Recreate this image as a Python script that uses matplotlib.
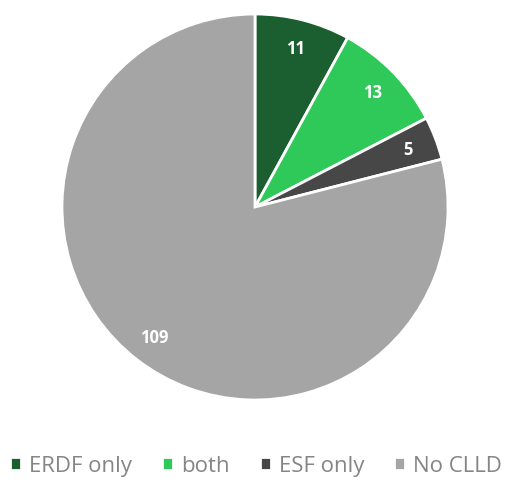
import matplotlib.pyplot as plt

categories = ['ERDF only', 'both', 'ESF only', 'No CLLD']
counts = [11, 13, 5, 109]
colours = ['#1b5e2f', '#2fc95a', '#474747', '#a5a5a5']

plt.rcParams['font.family'] = ['Open Sans', 'DejaVu Sans']

fig = plt.figure(figsize=(5.07, 4.89), dpi=100)
# pie centre at (255, 208) px, radius ~193 px
cx, cy, r = 255, 208, 193
ax = fig.add_axes([(cx - r) / 507, (489 - cy - r) / 489, 2 * r / 507, 2 * r / 489])

wedges, texts = ax.pie(counts, colors=colours, startangle=90, counterclock=False,
                       labels=[str(c) for c in counts], labeldistance=0.85,
                       wedgeprops=dict(edgecolor='white', linewidth=2),
                       textprops=dict(color='white', fontsize=12, fontweight='bold'))
for t in texts:
    t.set_horizontalalignment('center')
    t.set_verticalalignment('center')
ax.set_xlim(-1, 1)
ax.set_ylim(-1, 1)
ax.set_aspect('auto')

fig.legend(wedges, categories, loc='center', bbox_to_anchor=(256 / 507, 1 - 467 / 489),
           ncol=4, frameon=False, fontsize=16, labelcolor='#858585',
           handlelength=0.5, handleheight=0.5, handletextpad=0.35, columnspacing=1.35)

fig.savefig('out.png', dpi=100)
